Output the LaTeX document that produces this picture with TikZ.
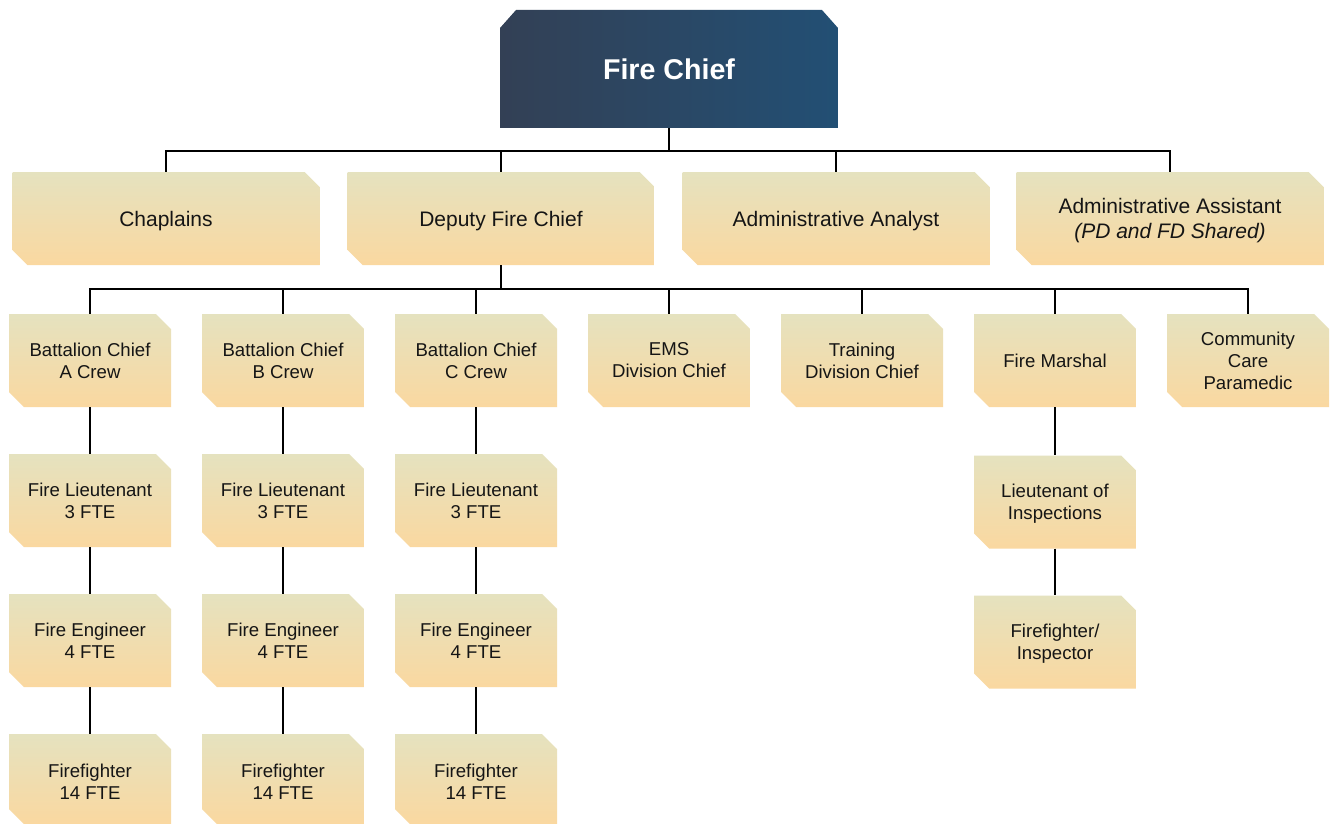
\documentclass[tikz,border=0pt]{standalone}
\usepackage{fontspec}
\setmainfont{Liberation Sans}
\definecolor{chiefleft}{HTML}{334055}
\definecolor{chiefright}{HTML}{224F74}
\definecolor{cardtop}{HTML}{E5E2BF}
\definecolor{cardbot}{HTML}{FAD8A0}
\definecolor{inktext}{HTML}{151515}
\tikzset{
  % cut-corner card: top-right and bottom-left corners clipped
  card/.style={rectangle, inner sep=0pt, align=center, text=inktext,
    minimum width=162pt, minimum height=93pt,
    font=\fontsize{18.6}{22}\selectfont,
    path picture={
      \shade[top color=cardtop, bottom color=cardbot]
        (path picture bounding box.north west)
        -- ([xshift=-15pt]path picture bounding box.north east)
        -- ([yshift=-15pt]path picture bounding box.north east)
        -- (path picture bounding box.south east)
        -- ([xshift=15pt]path picture bounding box.south west)
        -- ([yshift=15pt]path picture bounding box.south west)
        -- cycle;
    }},
  widecard/.style={card, minimum width=307pt, text depth=0pt,
    font=\fontsize{21}{25}\selectfont},
  lastcard/.style={card, minimum height=90pt, text height=41.5pt, text depth=0pt},
  % head box: both top corners clipped, horizontal gradient
  headbox/.style={rectangle, inner sep=0pt, align=center, text=white,
    minimum width=338pt, minimum height=118pt,
    font=\fontsize{28.6}{34}\selectfont\bfseries,
    path picture={
      \shade[left color=chiefleft, right color=chiefright]
        ([xshift=16pt]path picture bounding box.north west)
        -- ([xshift=-16pt]path picture bounding box.north east)
        -- ([yshift=-18pt]path picture bounding box.north east)
        -- (path picture bounding box.south east)
        -- (path picture bounding box.south west)
        -- ([yshift=-18pt]path picture bounding box.north west)
        -- cycle;
    }},
  link/.style={draw=black, line width=1.8pt}
}
\begin{document}
\begin{tikzpicture}[x=1pt, y=-1pt]
\useasboundingbox (0,0) rectangle (1330,824);
\fill[white] (0,0) rectangle (1330,824);

% top
\node[headbox] (chief) at (669,69) {Fire Chief};

% second tier
\node[widecard] (chap) at (166,218.5) {Chaplains};
\node[widecard] (dep)  at (501,218.5) {Deputy Fire Chief};
\node[widecard] (ana)  at (836,218.5) {Administrative Analyst};
\node[widecard] (asst) at (1170,218.5) {Administrative Assistant\\\itshape(PD and FD Shared)};

% third tier
\node[card] (bcA) at (90,360.5)   {Battalion Chief\\A Crew};
\node[card] (bcB) at (283,360.5)  {Battalion Chief\\B Crew};
\node[card] (bcC) at (476,360.5)  {Battalion Chief\\C Crew};
\node[card] (ems) at (669,360.5)  {EMS\\Division Chief};
\node[card] (trn) at (862,360.5)  {Training\\Division Chief};
\node[card] (fm)  at (1055,360.5) {Fire Marshal};
\node[card] (ccp) at (1248,360.5) {Community\\Care\\Paramedic};

% crews
\node[card] (ltA) at (90,500.5)  {Fire Lieutenant\\3 FTE};
\node[card] (ltB) at (283,500.5) {Fire Lieutenant\\3 FTE};
\node[card] (ltC) at (476,500.5) {Fire Lieutenant\\3 FTE};
\node[card] (enA) at (90,640.5)  {Fire Engineer\\4 FTE};
\node[card] (enB) at (283,640.5) {Fire Engineer\\4 FTE};
\node[card] (enC) at (476,640.5) {Fire Engineer\\4 FTE};
\node[lastcard] (ffA) at (90,779)  {Firefighter\\14 FTE};
\node[lastcard] (ffB) at (283,779) {Firefighter\\14 FTE};
\node[lastcard] (ffC) at (476,779) {Firefighter\\14 FTE};

% prevention
\node[card, text depth=0pt] (lti) at (1055,502) {Lieutenant of\\Inspections};
\node[card, text depth=0pt] (ffi) at (1055,642) {Firefighter/\\Inspector};

% buses
\coordinate (bus1) at (669,151);
\coordinate (bus2) at (501,289);

\draw[link] (chief.south) -- (bus1);
\foreach \n in {chap,dep,ana,asst} \draw[link] (bus1) -| (\n.north);

\draw[link] (dep.south) -- (bus2);
\foreach \n in {bcA,bcB,bcC,ems,trn,fm,ccp} \draw[link] (bus2) -| (\n.north);

\foreach \c in {A,B,C} {
  \draw[link] (bc\c.south) -- (lt\c.north);
  \draw[link] (lt\c.south) -- (en\c.north);
  \draw[link] (en\c.south) -- (ff\c.north);
}
\draw[link] (fm.south) -- (lti.north);
\draw[link] (lti.south) -- (ffi.north);
\end{tikzpicture}
\end{document}
